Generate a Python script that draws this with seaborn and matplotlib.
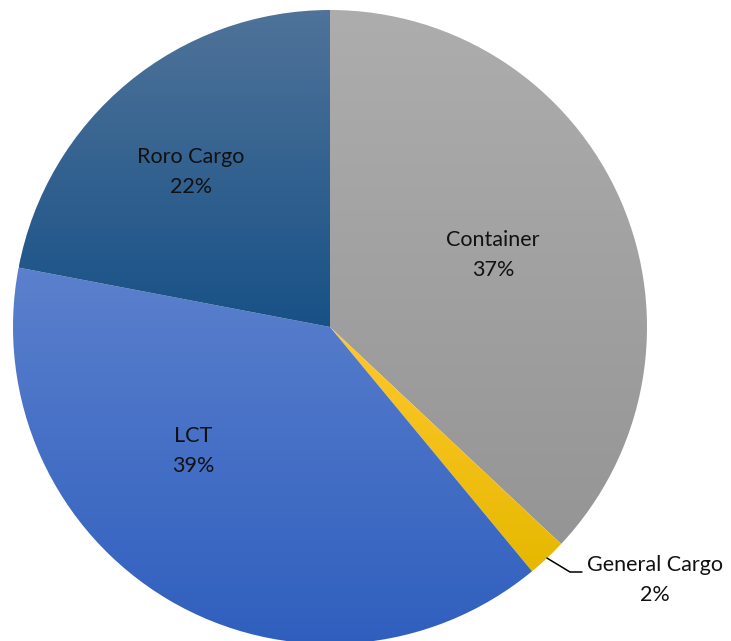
import numpy as np
import matplotlib
matplotlib.use("Agg")
import matplotlib.pyplot as plt
import seaborn as sns
from matplotlib.colors import LinearSegmentedColormap

# Dados do gráfico
categorias = ["Container", "General Cargo", "LCT", "Roro Cargo"]
valores = [37, 2, 39, 22]
rotulos = ["Container\n37%", "General Cargo\n2%", "LCT\n39%", "Roro Cargo\n22%"]

# Cores do degradê (topo, base) de cada fatia
cores_topo = ["#adadad", "#ffc82e", "#5b80cd", "#4f7399"]
cores_base = ["#959595", "#e6b800", "#2f5fbe", "#185187"]

sns.set_theme(style="white")
plt.rcParams["font.family"] = ["Lato", "DejaVu Sans"]

fig = plt.figure(figsize=(7.31, 6.41), dpi=100)
ax = fig.add_axes([0, 0, 1, 1])

centro = (330, 641 - 327)
raio = 317

fatias, _ = ax.pie(valores, startangle=90, counterclock=False,
                   center=centro, radius=raio, frame=True,
                   wedgeprops=dict(linewidth=0))
ax.set_aspect("equal")
ax.axis("off")

# Degradê vertical em cada fatia
grad = np.linspace(0, 1, 256).reshape(-1, 1)
for fatia, c1, c2 in zip(fatias, cores_topo, cores_base):
    fatia.set_facecolor("none")
    bb = fatia.get_path().get_extents()
    cmap = LinearSegmentedColormap.from_list("g", [c2, c1])
    img = ax.imshow(grad, cmap=cmap, origin="lower", aspect="auto",
                    extent=[bb.x0, bb.x1, bb.y0, bb.y1], zorder=1)
    img.set_clip_path(fatia)
ax.set_xlim(0, 731)
ax.set_ylim(0, 641)

# Rótulos (posições em pixels)
pos_rotulos = [(493, 641 - 255), (655, 641 - 580), (193, 641 - 451), (191, 641 - 172)]
for txt, (x, y) in zip(rotulos, pos_rotulos):
    ax.text(x, y, txt, ha="center", va="center", fontsize=15.5,
            color="#111111", linespacing=1.6, zorder=3)

# Linha de chamada do General Cargo
inicio = 90 - 360 * valores[0] / 100
meio = np.deg2rad(inicio - 360 * valores[1] / 200)
x0 = centro[0] + raio * np.cos(meio)
y0 = centro[1] + raio * np.sin(meio)
ax.plot([x0, 570, 582], [y0, 641 - 572, 641 - 572], color="black", lw=1.1, zorder=3)

fig.savefig("out.png", dpi=100, facecolor="white")
